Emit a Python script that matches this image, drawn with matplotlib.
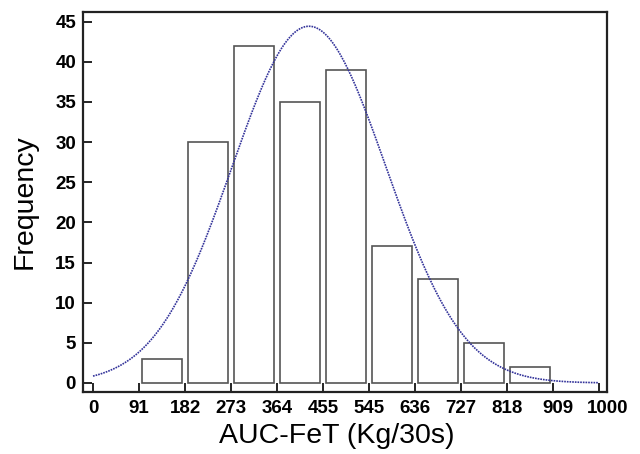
import numpy as np
import matplotlib
matplotlib.use('Agg')
import matplotlib.pyplot as plt
from matplotlib.transforms import ScaledTranslation

plt.rcParams['font.family'] = ['Liberation Sans', 'DejaVu Sans']

# bin edges (also the tick labels) and counts per bin
bin_edges = [0, 91, 182, 273, 364, 455, 545, 636, 727, 818, 909, 1000]
counts = [0, 3, 30, 42, 35, 39, 17, 13, 5, 2, 0]

# fitted normal curve
fit_mean = 427
fit_sd = 152
n_total = sum(counts)
bin_width = 91

edges = np.array(bin_edges, dtype=float)
centers = (edges[:-1] + edges[1:]) / 2
widths = np.diff(edges)

fig = plt.figure(figsize=(6.4, 4.54), dpi=100)
ax = fig.add_axes([0.1297, 0.1366, 0.949 - 0.1297, 0.9736 - 0.1366])

mask = np.array(counts) > 0
ax.bar(centers[mask], np.array(counts)[mask], width=widths[mask] * 0.86,
       facecolor='white', edgecolor='#555555', linewidth=1.2, zorder=2)

x = np.linspace(0, 1000, 400)
y = n_total * bin_width / (fit_sd * np.sqrt(2 * np.pi)) * np.exp(-(x - fit_mean) ** 2 / (2 * fit_sd ** 2))
ax.plot(x, y, color='#33339a', linewidth=1.2, linestyle=(0, (1, 0.6)), zorder=3)

ax.set_xlim(-19.8, 1016.8)
ax.set_ylim(-1.12, 46.2)
ax.set_xticks(bin_edges)
ax.set_xticklabels([str(e) for e in bin_edges])
ax.set_yticks(np.arange(0, 46, 5))
ax.tick_params(direction='in', length=6.5, width=1.2, labelsize=13.5)
ax.tick_params(axis='x', pad=6)
ax.tick_params(axis='y', pad=5)
for lab in ax.get_xticklabels() + ax.get_yticklabels():
    lab.set_fontweight('bold')
# the last two labels sit a little to the right in the original
ticks = ax.xaxis.get_major_ticks()
for tick, dx in [(ticks[-2], 0.05), (ticks[-1], 0.09)]:
    tick.label1.set_transform(tick.label1.get_transform() + ScaledTranslation(dx, 0, fig.dpi_scale_trans))
for sp in ax.spines.values():
    sp.set_linewidth(1.6)
    sp.set_color('#222222')

ax.set_xlabel('AUC-FeT (Kg/30s)', fontsize=20.5, labelpad=4)
ax.xaxis.label.set_x(0.484)
ax.set_ylabel('Frequency', fontsize=20.5, labelpad=13)

fig.savefig('out.png', dpi=100)
